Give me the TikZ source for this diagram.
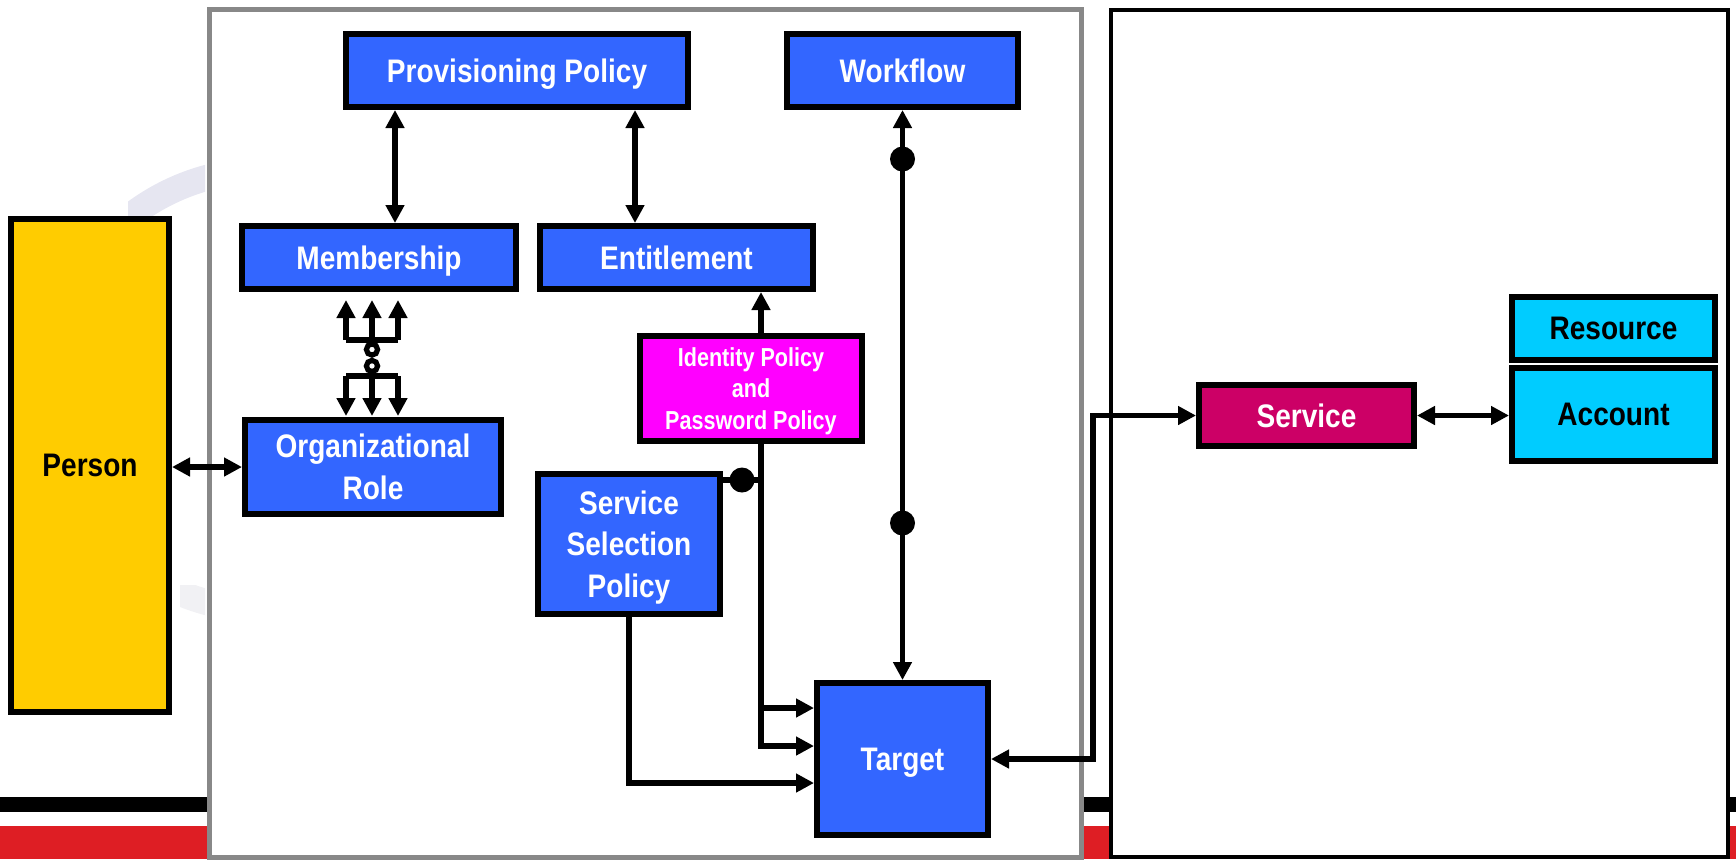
\documentclass[tikz,border=0pt]{standalone}
\usepackage{fontspec}
\setmainfont{Liberation Sans}
\newfontfamily\condfont{Liberation Sans}[FakeStretch=0.86]
\newfontfamily\condfontb{Liberation Sans}[FakeStretch=0.83]
\usetikzlibrary{arrows.meta,calc}
\definecolor{boxblue}{HTML}{3366FF}
\definecolor{personyellow}{HTML}{FFCC00}
\definecolor{idmagenta}{HTML}{FF00FF}
\definecolor{svcred}{HTML}{CC0066}
\definecolor{rescyan}{HTML}{00CCFF}
\definecolor{framegray}{HTML}{888888}
\definecolor{bandred}{HTML}{DE1E24}
\definecolor{wmark}{HTML}{E6E6F1}
\definecolor{wmarkb}{HTML}{F1F1F4}
\tikzset{
  box/.style={draw=black, line width=3pt, inner sep=0pt, align=center, text depth=0pt,
    font=\condfont\bfseries\fontsize{16.3}{20.85}\selectfont, text=white, fill=boxblue},
  conn/.style={line width=2.6pt},
  dot/.style={circle, fill=black, inner sep=0pt, minimum size=12.5pt},
}
\begin{document}
\begin{tikzpicture}[x=0.5pt,y=-0.5pt,>={Triangle[length=9pt,width=9pt]}]
\useasboundingbox (0,0) rectangle (1736,859);
% background bands
\fill[black] (0,797) rectangle (1736,812);
\fill[bandred] (0,826) rectangle (1736,859);
% faint watermark arc
\begin{scope}
  \clip (128,150) rectangle (205,222);
  \draw[wmark, line width=13pt] (265,390) circle[radius=110pt];
\end{scope}
\begin{scope}
  \clip (180,585) rectangle (205,625);
  \draw[wmarkb, line width=13pt] (265,390) circle[radius=110pt];
\end{scope}
% frames
\draw[framegray, line width=2.5pt, fill=white] (209,9.5) rectangle (1081.5,857);
\draw[black, line width=2pt, fill=white] (1110.5,9.5) rectangle (1728,857);

% nodes
\node[box, fill=personyellow, text=black, minimum width=79pt, minimum height=246.5pt] (person) at (90,465.5) {Person};
\node[box, minimum width=171pt, minimum height=36.5pt] (pp) at (517,70.5) {Provisioning Policy};
\node[box, minimum width=115.5pt, minimum height=36.5pt] (wf) at (902.5,70.5) {Workflow};
\node[box, minimum width=137pt, minimum height=31.5pt] (mem) at (379,257.5) {Membership};
\node[box, minimum width=136.5pt, minimum height=31.5pt] (ent) at (676.5,257.5) {Entitlement};
\node[box, fill=idmagenta, minimum width=111pt, minimum height=52.5pt,
  font=\condfontb\bfseries\fontsize{13}{15.85}\selectfont] (ip) at (751,388.5) {Identity Policy\\and\\Password Policy};
\node[box, minimum width=128pt, minimum height=47pt] (or) at (373,467) {Organizational\\Role};
\node[box, minimum width=91pt, minimum height=70pt] (ssp) at (629,544) {Service\\Selection\\Policy};
\node[box, minimum width=85.5pt, minimum height=76pt] (tg) at (902.5,759) {Target};
\node[box, fill=svcred, minimum width=107.5pt, minimum height=30.5pt] (sv) at (1306.5,415.5) {Service};
\node[box, fill=rescyan, text=black, minimum width=101.5pt, minimum height=31.5pt] (rs) at (1613.5,328.5) {Resource};
\node[box, fill=rescyan, text=black, minimum width=101.5pt, minimum height=46.5pt] (ac) at (1613.5,414.5) {Account};

% helper coordinates
\coordinate (xa) at (395,0);
\coordinate (xb) at (635,0);
\coordinate (xi) at (761,0);
\coordinate (j) at (761,480);

% connectors
\draw[conn,<->] (person.east |- or.west) -- (or.west);
\draw[conn,<->] (pp.south -| xa) -- (mem.north -| xa);
\draw[conn,<->] (pp.south -| xb) -- (ent.north -| xb);
\draw[conn,<->] (wf.south) -- (tg.north);
\node[dot] (d1) at (902.5,159) {};
\node[dot] (d2) at (902.5,523) {};
\draw[conn,->] (ip.north -| xi) -- (ent.south -| xi);
\draw[conn,->] (ip.south -| xi) -- (761,746) -- ($(tg.west)+(0,-13)$);
\draw[conn,->] (761,708) -- ($(tg.west)+(0,-51)$);
\draw[conn] (j -| ssp.east) -- (j);
\node[dot] (d3) at (742,480) {};
\draw[conn,->] (ssp.south) |- ($(tg.west)+(0,24)$);
\draw[conn,<->] (tg.east) -- ++(102,0) |- (sv.west);
\draw[conn,<->] (sv.east) -- (sv.east -| ac.west);

% trident connector between Membership and Organizational Role
\draw[conn] (346,340) -- (398,340);
\draw[conn,->] (346,340) -- (346,300);
\draw[conn,->] (372,340) -- (372,300);
\draw[conn,->] (398,340) -- (398,300);
\draw[conn] (372,349.5) circle[radius=2.8pt];
\draw[conn] (372,366) circle[radius=2.8pt];
\draw[conn] (346,376) -- (398,376);
\draw[conn,->] (346,376) -- (346,416);
\draw[conn,->] (372,376) -- (372,416);
\draw[conn,->] (398,376) -- (398,416);
\end{tikzpicture}
\end{document}
